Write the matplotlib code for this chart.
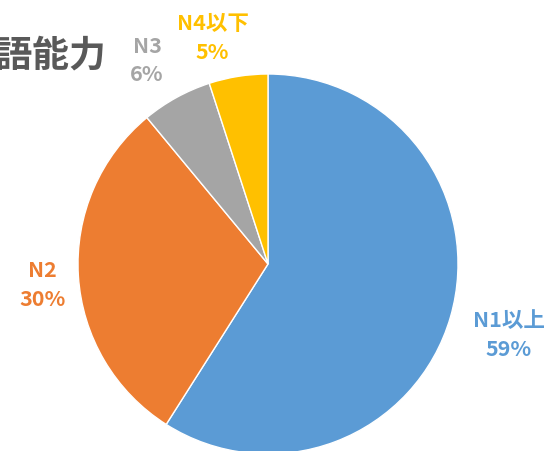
import numpy as np
import matplotlib
matplotlib.use("Agg")
from matplotlib import pyplot as plt

plt.rcParams['font.family'] = ['Noto Sans CJK JP', 'DejaVu Sans']

# data
labels = ['N1以上', 'N2', 'N3', 'N4以下']
values = [59, 30, 6, 5]
colors = ['#5B9BD5', '#ED7D31', '#A5A5A5', '#FFC000']
title = '日本語能力'

# label distance from centre (in radii) and small angle nudges
label_dist = [1.32, 1.19, 1.25, 1.23]
label_nudge = [0.0, 1.4, 1.8, 4.7]

fig = plt.figure(figsize=(5.51, 4.52), dpi=100)
ax = fig.add_axes([0, 0, 1, 1])

wedges, _ = ax.pie(values, colors=colors, startangle=90, counterclock=False,
                   wedgeprops=dict(edgecolor='white', linewidth=1.0))

# centre at (268, 265) px, radius 190 px
cx, cy, r = 268, 265, 190
ax.set_aspect('auto')
ax.set_xlim(-cx / r, (551 - cx) / r)
ax.set_ylim((cy - 452) / r, cy / r)
ax.axis('off')

for w, lab, v, d, n, c in zip(wedges, labels, values, label_dist, label_nudge, colors):
    ang = np.deg2rad((w.theta1 + w.theta2) / 2 + n)
    ax.text(d * np.cos(ang), d * np.sin(ang), f'{lab}\n{v}%', ha='center', va='center',
            fontsize=15.5, fontweight='bold', color=c, linespacing=1.45)

fig.text(106 / 551, 1 - 57 / 452, title, ha='right', va='center',
         fontsize=26.5, fontweight='bold', color='#595959')

fig.savefig('out.png', dpi=100)
